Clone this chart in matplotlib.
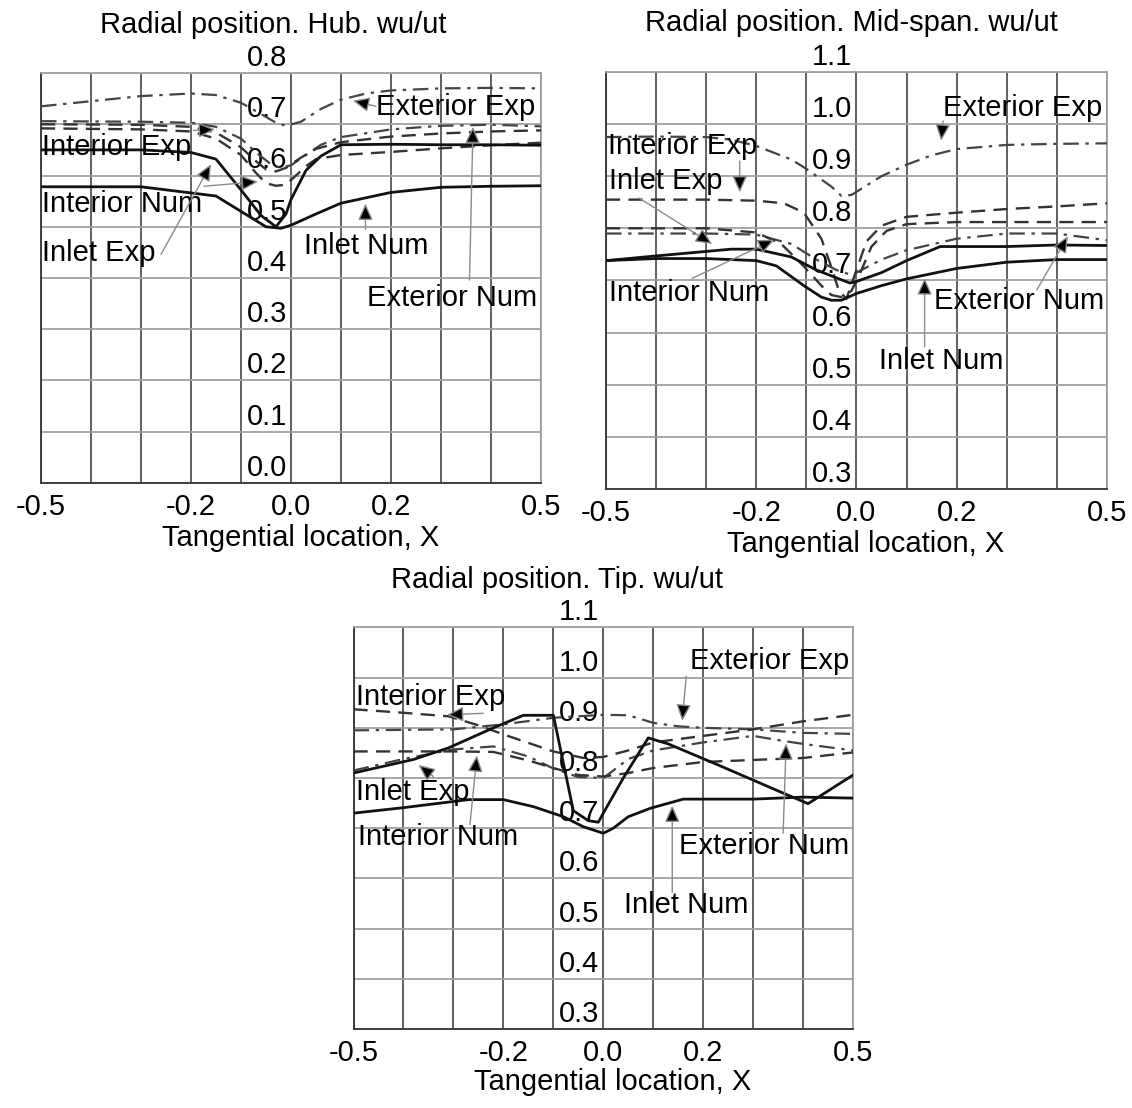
import numpy as np
import matplotlib
matplotlib.use('Agg')
import matplotlib.pyplot as plt

plt.rcParams['font.family'] = ['Liberation Sans', 'DejaVu Sans']
FS = 21

# ---- hub ----
hub_ext_exp_x = [-0.5, -0.4, -0.3, -0.2, -0.15, -0.1, -0.06, -0.03, -0.01, 0.02, 0.06, 0.1, 0.15, 0.2, 0.3, 0.4, 0.5]
hub_ext_exp_y = [0.735, 0.745, 0.755, 0.76, 0.757, 0.742, 0.72, 0.703, 0.697, 0.705, 0.73, 0.748, 0.76, 0.766, 0.77, 0.771, 0.77]
hub_ext_num_x = [-0.5, -0.3, -0.2, -0.15, -0.1, -0.07, -0.04, -0.02, 0.0, 0.03, 0.06, 0.1, 0.2, 0.3, 0.4, 0.5]
hub_ext_num_y = [0.706, 0.705, 0.703, 0.695, 0.672, 0.645, 0.622, 0.615, 0.62, 0.64, 0.66, 0.675, 0.69, 0.697, 0.699, 0.696]
hub_int_exp_x = [-0.5, -0.3, -0.2, -0.15, -0.1, -0.07, -0.05, -0.03, -0.01, 0.02, 0.05, 0.1, 0.2, 0.3, 0.4, 0.5]
hub_int_exp_y = [0.7, 0.699, 0.695, 0.684, 0.655, 0.628, 0.612, 0.608, 0.615, 0.635, 0.652, 0.665, 0.676, 0.682, 0.686, 0.688]
hub_int_num_x = [-0.5, -0.3, -0.2, -0.15, -0.1, -0.07, -0.05, -0.03, -0.01, 0.01, 0.03, 0.05, 0.1, 0.2, 0.3, 0.4, 0.5]
hub_int_num_y = [0.692, 0.69, 0.686, 0.672, 0.64, 0.605, 0.585, 0.58, 0.582, 0.6, 0.618, 0.632, 0.64, 0.646, 0.653, 0.659, 0.664]
hub_inl_exp_x = [-0.5, -0.3, -0.2, -0.15, -0.1, -0.06, -0.03, -0.01, 0.0, 0.03, 0.06, 0.1, 0.2, 0.3, 0.4, 0.5]
hub_inl_exp_y = [0.65, 0.65, 0.645, 0.632, 0.572, 0.522, 0.5, 0.525, 0.553, 0.61, 0.638, 0.66, 0.661, 0.66, 0.66, 0.659]
hub_inl_num_x = [-0.5, -0.3, -0.15, -0.08, -0.05, -0.02, 0.0, 0.05, 0.1, 0.2, 0.3, 0.4, 0.5]
hub_inl_num_y = [0.578, 0.578, 0.56, 0.518, 0.5, 0.497, 0.503, 0.525, 0.546, 0.567, 0.577, 0.579, 0.58]

# ---- mid-span ----
mid_ext_exp_x = [-0.5, -0.4, -0.3, -0.25, -0.2, -0.13, -0.1, -0.05, -0.03, -0.01, 0.02, 0.05, 0.1, 0.15, 0.2, 0.3, 0.4, 0.5]
mid_ext_exp_y = [0.975, 0.976, 0.975, 0.97, 0.958, 0.932, 0.914, 0.88, 0.862, 0.864, 0.882, 0.9, 0.922, 0.94, 0.952, 0.96, 0.962, 0.963]
mid_int_exp_x = [-0.5, -0.3, -0.2, -0.145, -0.105, -0.07, -0.05, -0.035, -0.02, 0.0, 0.02, 0.05, 0.1, 0.2, 0.3, 0.4, 0.5]
mid_int_exp_y = [0.855, 0.855, 0.853, 0.848, 0.83, 0.78, 0.725, 0.68, 0.665, 0.72, 0.775, 0.805, 0.822, 0.83, 0.837, 0.842, 0.848]
mid_int_num_x = [-0.5, -0.3, -0.2, -0.15, -0.105, -0.07, -0.05, -0.03, -0.01, 0.01, 0.03, 0.06, 0.1, 0.2, 0.3, 0.4, 0.5]
mid_int_num_y = [0.8, 0.8, 0.792, 0.77, 0.727, 0.69, 0.672, 0.668, 0.68, 0.72, 0.765, 0.795, 0.808, 0.812, 0.812, 0.812, 0.812]
mid_ext_num_x = [-0.5, -0.3, -0.2, -0.13, -0.08, -0.04, -0.015, 0.0, 0.02, 0.05, 0.1, 0.2, 0.3, 0.4, 0.5]
mid_ext_num_y = [0.79, 0.79, 0.788, 0.77, 0.74, 0.72, 0.712, 0.715, 0.725, 0.74, 0.758, 0.78, 0.79, 0.79, 0.777]
mid_inl_exp_x = [-0.5, -0.4, -0.25, -0.2, -0.13, -0.08, -0.04, -0.013, 0.0, 0.05, 0.1, 0.167, 0.3, 0.4, 0.5]
mid_inl_exp_y = [0.738, 0.747, 0.76, 0.76, 0.745, 0.72, 0.705, 0.695, 0.698, 0.715, 0.738, 0.765, 0.765, 0.768, 0.767]
mid_inl_num_x = [-0.5, -0.4, -0.3, -0.2, -0.16, -0.105, -0.07, -0.05, -0.03, 0.0, 0.05, 0.1, 0.2, 0.3, 0.4, 0.5]
mid_inl_num_y = [0.738, 0.742, 0.742, 0.738, 0.728, 0.69, 0.668, 0.662, 0.662, 0.675, 0.69, 0.703, 0.723, 0.735, 0.74, 0.74]

# ---- tip ----
tip_ext_exp_x = [-0.5, -0.3, -0.2, -0.1, 0.0, 0.05, 0.1, 0.15, 0.2, 0.3, 0.4, 0.5]
tip_ext_exp_y = [0.895, 0.897, 0.907, 0.92, 0.926, 0.925, 0.91, 0.903, 0.9, 0.897, 0.89, 0.888]
tip_int_exp_x = [-0.5, -0.4, -0.31, -0.25, -0.2, -0.15, -0.1, -0.04, 0.0, 0.05, 0.1, 0.2, 0.3, 0.4, 0.5]
tip_int_exp_y = [0.937, 0.93, 0.923, 0.905, 0.887, 0.87, 0.853, 0.84, 0.842, 0.855, 0.871, 0.884, 0.897, 0.913, 0.926]
tip_int_num_x = [-0.5, -0.3, -0.22, -0.15, -0.1, -0.05, 0.0, 0.05, 0.1, 0.2, 0.3, 0.4, 0.5]
tip_int_num_y = [0.853, 0.853, 0.852, 0.835, 0.82, 0.806, 0.803, 0.81, 0.82, 0.832, 0.836, 0.84, 0.851]
tip_ext_num_x = [-0.5, -0.4, -0.3, -0.22, -0.15, -0.1, -0.05, 0.0, 0.02, 0.05, 0.1, 0.2, 0.3, 0.36, 0.4, 0.5]
tip_ext_num_y = [0.815, 0.838, 0.857, 0.863, 0.843, 0.819, 0.802, 0.8, 0.815, 0.838, 0.855, 0.871, 0.884, 0.874, 0.868, 0.855]
tip_inl_exp_x = [-0.5, -0.38, -0.31, -0.22, -0.16, -0.1, -0.06, -0.03, -0.01, 0.0, 0.04, 0.09, 0.13, 0.23, 0.36, 0.41, 0.5]
tip_inl_exp_y = [0.81, 0.837, 0.86, 0.9, 0.925, 0.925, 0.735, 0.715, 0.712, 0.73, 0.8, 0.88, 0.868, 0.826, 0.77, 0.749, 0.806]
tip_inl_num_x = [-0.5, -0.4, -0.27, -0.2, -0.14, -0.08, -0.04, 0.0, 0.02, 0.05, 0.095, 0.16, 0.3, 0.4, 0.5]
tip_inl_num_y = [0.73, 0.741, 0.757, 0.757, 0.743, 0.723, 0.703, 0.69, 0.7, 0.723, 0.74, 0.758, 0.758, 0.762, 0.76]

xtick_vals = [-0.5, -0.2, 0.0, 0.2, 0.5]
xtick_text = ['-0.5', '-0.2', '0.0', '0.2', '0.5']

# label text position, arrow tail, arrow head (data coords)
hub_notes = [
    ('Exterior Exp', (0.17, 0.733), (0.17, 0.735), (0.124, 0.746)),
    ('Interior Exp', (-0.498, 0.656), (-0.195, 0.688), (-0.152, 0.69)),
    ('Interior Num', (-0.498, 0.544), (-0.174, 0.579), (-0.066, 0.588)),
    ('Inlet Exp', (-0.497, 0.449), (-0.26, 0.446), (-0.16, 0.622)),
    ('Inlet Num', (0.027, 0.463), (0.149, 0.495), (0.149, 0.545)),
    ('Exterior Num', (0.152, 0.361), (0.357, 0.396), (0.364, 0.695)),
]
mid_notes = [
    ('Exterior Exp', (0.173, 1.031), (0.173, 1.006), (0.169, 0.968)),
    ('Interior Exp', (-0.496, 0.957), (-0.233, 0.929), (-0.233, 0.869)),
    ('Inlet Exp', (-0.493, 0.89), (-0.434, 0.858), (-0.288, 0.77)),
    ('Interior Num', (-0.493, 0.675), (-0.328, 0.704), (-0.164, 0.778)),
    ('Exterior Num', (0.155, 0.661), (0.36, 0.682), (0.422, 0.785)),
    ('Inlet Num', (0.045, 0.545), (0.136, 0.573), (0.136, 0.704)),
]
tip_notes = [
    ('Exterior Exp', (0.173, 1.034), (0.166, 1.003), (0.158, 0.914)),
    ('Interior Exp', (-0.495, 0.962), (-0.24, 0.929), (-0.313, 0.926)),
    ('Inlet Exp', (-0.495, 0.772), (-0.34, 0.803), (-0.37, 0.826)),
    ('Interior Num', (-0.492, 0.683), (-0.267, 0.707), (-0.253, 0.845)),
    ('Exterior Num', (0.152, 0.665), (0.36, 0.69), (0.366, 0.869)),
    ('Inlet Num', (0.042, 0.548), (0.138, 0.572), (0.138, 0.745)),
]

DASH = (0, (6, 3.5))
DASHDOT = (0, (7, 3, 1.5, 3))


def draw_panel(ax, series, ylim, title, title_x, notes):
    ax.set_xlim(-0.5, 0.5)
    ax.set_ylim(*ylim)
    for xv in np.arange(-0.5, 0.51, 0.1):
        ax.axvline(xv, color='#555555', lw=1.3, zorder=1)
    yvals = np.round(np.arange(ylim[0], ylim[1] + 0.001, 0.1), 1)
    for yv in yvals:
        ax.axhline(yv, color='#a0a0a0', lw=1.3, zorder=1)
        ax.text(-0.008, yv + 0.002, '%.1f' % yv, ha='right', va='bottom',
                fontsize=FS, clip_on=False, zorder=3)
    for x, y, style, col, lw in series:
        ax.plot(x, y, linestyle=style, color=col, lw=lw, zorder=4)
    for text, pos, tail, head in notes:
        ax.text(pos[0], pos[1], text, ha='left', va='center', fontsize=FS, zorder=5)
        ax.annotate('', xy=head, xytext=tail,
                    arrowprops=dict(arrowstyle='-|>,head_length=1.0,head_width=0.45',
                                    fc='black', ec='#8a8a8a', lw=1.0,
                                    shrinkA=0, shrinkB=0), zorder=5)
    ax.set_xticks(xtick_vals, xtick_text, fontsize=FS)
    ax.tick_params(axis='x', length=0, pad=7)
    ax.set_yticks([])
    for s in ['top', 'right']:
        ax.spines[s].set_color('#a0a0a0')
    for s in ['left', 'bottom']:
        ax.spines[s].set_color('#333333')
    for s in ax.spines.values():
        s.set_linewidth(1.3)
    ax.text(title_x, 1.118, title, transform=ax.transAxes, ha='center', va='center', fontsize=FS)
    ax.text(0.519, -0.133, 'Tangential location, X', transform=ax.transAxes,
            ha='center', va='center', fontsize=FS)


fig = plt.figure(figsize=(11.32, 11.08), dpi=100)
ax1 = fig.add_axes([0.0362, 0.5641, 0.4417, 0.370])
ax2 = fig.add_axes([0.5353, 0.5587, 0.4426, 0.3764])
ax3 = fig.add_axes([0.3123, 0.0713, 0.4413, 0.3624])

draw_panel(ax1, [
    (hub_ext_exp_x, hub_ext_exp_y, DASHDOT, '#444444', 1.6),
    (hub_ext_num_x, hub_ext_num_y, DASHDOT, '#444444', 1.6),
    (hub_int_exp_x, hub_int_exp_y, DASH, '#333333', 1.7),
    (hub_int_num_x, hub_int_num_y, DASH, '#333333', 1.7),
    (hub_inl_exp_x, hub_inl_exp_y, '-', '#111111', 2.0),
    (hub_inl_num_x, hub_inl_num_y, '-', '#111111', 2.0),
], (0.0, 0.8), 'Radial position. Hub. wu/ut', 0.464, hub_notes)

draw_panel(ax2, [
    (mid_ext_exp_x, mid_ext_exp_y, DASHDOT, '#444444', 1.6),
    (mid_ext_num_x, mid_ext_num_y, DASHDOT, '#444444', 1.6),
    (mid_int_exp_x, mid_int_exp_y, DASH, '#333333', 1.7),
    (mid_int_num_x, mid_int_num_y, DASH, '#333333', 1.7),
    (mid_inl_exp_x, mid_inl_exp_y, '-', '#111111', 2.0),
    (mid_inl_num_x, mid_inl_num_y, '-', '#111111', 2.0),
], (0.3, 1.1), 'Radial position. Mid-span. wu/ut', 0.49, mid_notes)

draw_panel(ax3, [
    (tip_ext_exp_x, tip_ext_exp_y, DASHDOT, '#444444', 1.6),
    (tip_ext_num_x, tip_ext_num_y, DASHDOT, '#444444', 1.6),
    (tip_int_exp_x, tip_int_exp_y, DASH, '#333333', 1.7),
    (tip_int_num_x, tip_int_num_y, DASH, '#333333', 1.7),
    (tip_inl_exp_x, tip_inl_exp_y, '-', '#111111', 2.0),
    (tip_inl_num_x, tip_inl_num_y, '-', '#111111', 2.0),
], (0.3, 1.1), 'Radial position. Tip. wu/ut', 0.407, tip_notes)

fig.savefig('out.png', dpi=100)
